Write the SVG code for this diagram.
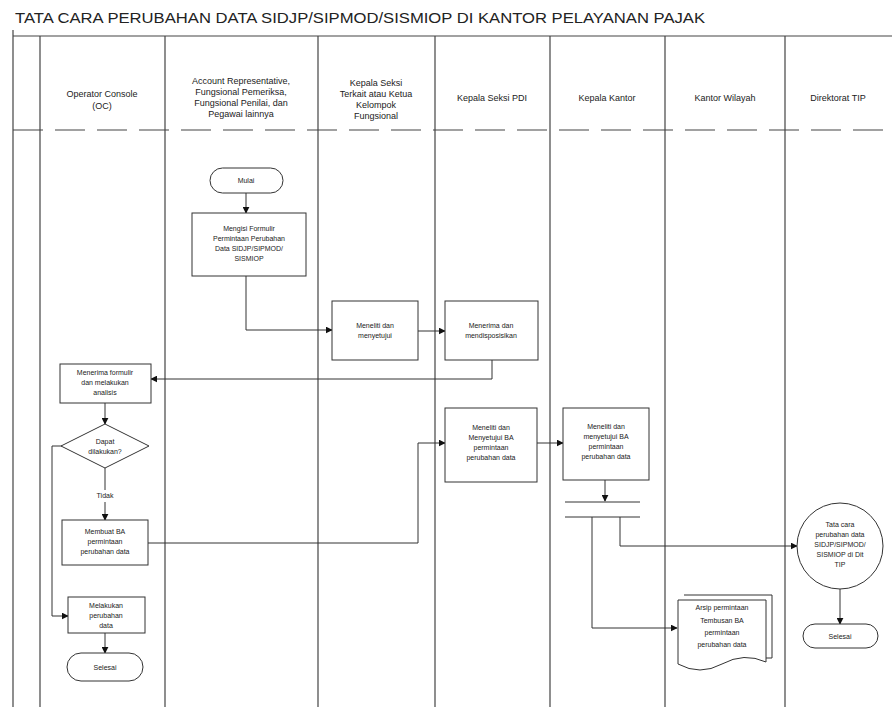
<svg xmlns="http://www.w3.org/2000/svg" width="892" height="707" viewBox="0 0 892 707">
<style>
.lane{stroke:#444;stroke-width:1.2;fill:none}
.node{fill:#fff;stroke:#333;stroke-width:1}
.t{font-family:"Liberation Sans",Arial,sans-serif;font-size:7px;fill:#222;text-anchor:middle}
.h{font-family:"Liberation Sans",Arial,sans-serif;font-size:9px;fill:#222;text-anchor:middle}
.c{fill:none;stroke:#333;stroke-width:1}
</style>
<defs>
<marker id="ah" viewBox="0 0 10 10" refX="9" refY="5" markerWidth="7" markerHeight="7" orient="auto" markerUnits="userSpaceOnUse"><path d="M0,0 L10,5 L0,10 Z" fill="#111"/></marker>
</defs>
<rect width="892" height="707" fill="#fff"/>
<g id="frame">
<text x="15" y="23" font-family="'Liberation Sans',Arial,sans-serif" font-size="14" fill="#222" textLength="690" lengthAdjust="spacingAndGlyphs">TATA CARA PERUBAHAN DATA SIDJP/SIPMOD/SISMIOP DI KANTOR PELAYANAN PAJAK</text>
<line class="lane" x1="13" y1="36" x2="892" y2="36"/>
<line class="lane" x1="13" y1="130" x2="892" y2="130" stroke-dasharray="30,12"/>
<line class="lane" x1="13" y1="30" x2="13" y2="707"/>
<line class="lane" x1="40" y1="36" x2="40" y2="707"/>
<line class="lane" x1="165" y1="36" x2="165" y2="707"/>
<line class="lane" x1="318" y1="36" x2="318" y2="707"/>
<line class="lane" x1="435" y1="36" x2="435" y2="707"/>
<line class="lane" x1="550" y1="36" x2="550" y2="707"/>
<line class="lane" x1="665" y1="36" x2="665" y2="707"/>
<line class="lane" x1="785" y1="36" x2="785" y2="707"/>
<text class="h" x="102" y="97">Operator Console</text>
<text class="h" x="102" y="109">(OC)</text>
<text class="h" x="241" y="84">Account Representative,</text>
<text class="h" x="241" y="95">Fungsional Pemeriksa,</text>
<text class="h" x="241" y="106">Fungsional Penilai, dan</text>
<text class="h" x="241" y="117">Pegawai lainnya</text>
<text class="h" x="376" y="86">Kepala Seksi</text>
<text class="h" x="376" y="97">Terkait atau Ketua</text>
<text class="h" x="376" y="108">Kelompok</text>
<text class="h" x="376" y="119">Fungsional</text>
<text class="h" x="492" y="101">Kepala Seksi PDI</text>
<text class="h" x="607" y="101">Kepala Kantor</text>
<text class="h" x="725" y="101">Kantor Wilayah</text>
<text class="h" x="838" y="101">Direktorat TIP</text>
</g>
<g id="connectors">
<line class="c" x1="246" y1="193" x2="246" y2="213" marker-end="url(#ah)"/>
<polyline class="c" points="246,276 246,330 332,330" marker-end="url(#ah)"/>
<line class="c" x1="418" y1="331" x2="445" y2="331" marker-end="url(#ah)"/>
<polyline class="c" points="492,360 492,379 151,379" marker-end="url(#ah)"/>
<line class="c" x1="105" y1="403" x2="105" y2="424" marker-end="url(#ah)"/>
<line class="c" x1="105" y1="468" x2="105" y2="490"/>
<line class="c" x1="105" y1="502" x2="105" y2="520" marker-end="url(#ah)"/>
<polyline class="c" points="62,446 52,446 52,616 68,616" marker-end="url(#ah)"/>
<polyline class="c" points="148,543 418,543 418,443 445,443" marker-end="url(#ah)"/>
<line class="c" x1="537" y1="443" x2="563" y2="443" marker-end="url(#ah)"/>
<line class="c" x1="105" y1="633" x2="105" y2="653" marker-end="url(#ah)"/>
<line class="c" x1="605" y1="480" x2="605" y2="501" marker-end="url(#ah)"/>
<line class="c" x1="565" y1="502" x2="640" y2="502"/>
<line class="c" x1="565" y1="517" x2="640" y2="517"/>
<polyline class="c" points="592,517 592,628 677,628" marker-end="url(#ah)"/>
<polyline class="c" points="620,517 620,546 797,546" marker-end="url(#ah)"/>
<line class="c" x1="840" y1="589" x2="840" y2="624" marker-end="url(#ah)"/>
</g>
<g id="mulai">
<rect class="node" x="210" y="168" width="73" height="25" rx="12.5"/>
<text class="t" x="246" y="183">Mulai</text>
</g>
<g id="mengisi">
<rect class="node" x="192" y="213" width="114" height="63"/>
<text class="t" x="249" y="231">Mengisi Formulir</text>
<text class="t" x="249" y="241">Permintaan Perubahan</text>
<text class="t" x="249" y="251">Data SIDJP/SIPMOD/</text>
<text class="t" x="249" y="261">SISMIOP</text>
</g>
<g id="meneliti1">
<rect class="node" x="332" y="301" width="86" height="59"/>
<text class="t" x="375" y="328">Meneliti dan</text>
<text class="t" x="375" y="338">menyetujui</text>
</g>
<g id="menerima-pdi">
<rect class="node" x="445" y="301" width="93" height="59"/>
<text class="t" x="491" y="328">Menerima dan</text>
<text class="t" x="491" y="338">mendisposisikan</text>
</g>
<g id="menerima-oc">
<rect class="node" x="60" y="364" width="91" height="39"/>
<text class="t" x="105" y="375">Menerima formulir</text>
<text class="t" x="105" y="385">dan melakukan</text>
<text class="t" x="105" y="395">analisis</text>
</g>
<g id="keputusan">
<polygon class="node" points="105,424 149,446 105,468 61,446"/>
<text class="t" x="105" y="444">Dapat</text>
<text class="t" x="105" y="454">dilakukan?</text>
</g>
<g id="label-tidak">
<text class="t" x="105" y="498">Tidak</text>
</g>
<g id="membuat-ba">
<rect class="node" x="62" y="520" width="86" height="45"/>
<text class="t" x="105" y="534">Membuat BA</text>
<text class="t" x="105" y="544">permintaan</text>
<text class="t" x="105" y="554">perubahan data</text>
</g>
<g id="melakukan">
<rect class="node" x="68" y="597" width="77" height="36"/>
<text class="t" x="106" y="608">Melakukan</text>
<text class="t" x="106" y="618">perubahan</text>
<text class="t" x="106" y="628">data</text>
</g>
<g id="selesai-oc">
<rect class="node" x="67" y="653" width="76" height="28" rx="14"/>
<text class="t" x="105" y="670">Selesai</text>
</g>
<g id="meneliti-ba-pdi">
<rect class="node" x="445" y="408" width="92" height="74"/>
<text class="t" x="491" y="430">Meneliti dan</text>
<text class="t" x="491" y="440">Menyetujui BA</text>
<text class="t" x="491" y="450">permintaan</text>
<text class="t" x="491" y="460">perubahan data</text>
</g>
<g id="meneliti-ba-kk">
<rect class="node" x="563" y="408" width="86" height="72"/>
<text class="t" x="606" y="429">Meneliti dan</text>
<text class="t" x="606" y="439">menyetujui BA</text>
<text class="t" x="606" y="449">permintaan</text>
<text class="t" x="606" y="459">perubahan data</text>
</g>
<g id="arsip-kanwil">
<path class="node" d="M684,595 H772 V658 H766"/>
<path class="node" d="M678,600 H766 V662 Q744,652 722,664 Q700,676 678,664 Z"/>
<text class="t" x="722" y="610">Arsip permintaan</text>
<text class="t" x="722" y="623">Tembusan BA</text>
<text class="t" x="722" y="635">permintaan</text>
<text class="t" x="722" y="647">perubahan data</text>
</g>
<g id="tata-cara-tip">
<circle class="node" cx="840" cy="546" r="43"/>
<text class="t" x="840" y="527">Tata cara</text>
<text class="t" x="840" y="537">perubahan data</text>
<text class="t" x="840" y="547">SIDJP/SIPMOD/</text>
<text class="t" x="840" y="557">SISMIOP di Dit</text>
<text class="t" x="840" y="567">TIP</text>
</g>
<g id="selesai-tip">
<rect class="node" x="803" y="624" width="75" height="24" rx="12"/>
<text class="t" x="840" y="639">Selesai</text>
</g>
</svg>
